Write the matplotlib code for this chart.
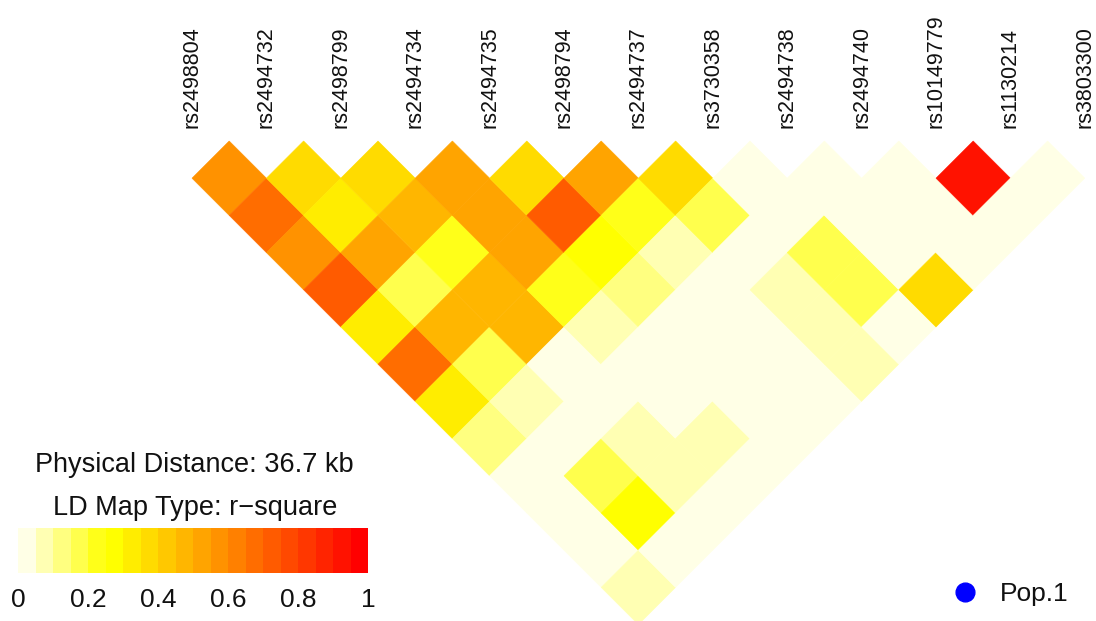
import matplotlib
matplotlib.use("Agg")
import matplotlib.pyplot as plt
import numpy as np
from matplotlib.colors import ListedColormap, BoundaryNorm, hsv_to_rgb
from matplotlib.collections import PolyCollection
from matplotlib.cm import ScalarMappable

plt.rcParams['font.family'] = ['Liberation Sans', 'DejaVu Sans']

snps = ["rs2498804", "rs2494732", "rs2498799", "rs2494734", "rs2494735",
        "rs2498794", "rs2494737", "rs3730358", "rs2494738", "rs2494740",
        "rs10149779", "rs1130214", "rs3803300"]

# r-square values; row i lists the pairs (i, j) for j > i
r2_rows = [
    [0.57, 0.67, 0.58, 0.72, 0.32, 0.68, 0.33, 0.12, 0.03, 0.02, 0.02, 0.07],
    [0.37, 0.31, 0.52, 0.17, 0.47, 0.18, 0.07, 0.03, 0.17, 0.27, 0.02],
    [0.38, 0.47, 0.22, 0.46, 0.48, 0.03, 0.02, 0.07, 0.08, 0.01],
    [0.53, 0.51, 0.52, 0.22, 0.08, 0.02, 0.03, 0.07, 0.01],
    [0.37, 0.72, 0.27, 0.12, 0.02, 0.03, 0.01, 0.02],
    [0.52, 0.23, 0.07, 0.02, 0.03, 0.02, 0.01],
    [0.36, 0.17, 0.02, 0.07, 0.08, 0.07],
    [0.01, 0.02, 0.17, 0.18, 0.02],
    [0.02, 0.01, 0.03, 0.37],
    [0.01, 0.02, 0.01],
    [0.93, 0.02],
    [0.01],
]

cbar_ticks = [0, 0.2, 0.4, 0.6, 0.8, 1]
cbar_ticklabels = ["0", "0.2", "0.4", "0.6", "0.8", "1"]
distance_text = "Physical Distance: 36.7 kb"
maptype_text = "LD Map Type: r\u2212square"
pop_label = "Pop.1"

# colour palette: rev(heat.colors(20))
n = 20
nj = n // 4
ni = n - nj
cols = [hsv_to_rgb((h, 1, 1)) for h in np.linspace(0, 1 / 6, ni)]
cols += [hsv_to_rgb((1 / 6, s, 1)) for s in np.linspace(1 - 1 / (2 * nj), 1 / (2 * nj), nj)]
cols = cols[::-1]
cmap = ListedColormap(cols)
norm = BoundaryNorm(np.linspace(0, 1, n + 1), n)

W, H = 1096, 621
fig = plt.figure(figsize=(W / 100, H / 100), dpi=100)
ax = fig.add_axes([0, 0, 1, 1])
step = 74.4
x0, ytop = 192, 141
ax.set_xlim(-x0 / step, (W - x0) / step)
ax.set_ylim((H - ytop) / step, -ytop / step)
ax.axis("off")

verts, vals = [], []
for i, row in enumerate(r2_rows):
    for k, v in enumerate(row):
        j = i + 1 + k
        cu, cv = (i + j) / 2, (j - i) / 2
        verts.append([(cu - 0.5, cv), (cu, cv - 0.5), (cu + 0.5, cv), (cu, cv + 0.5)])
        vals.append(v)
pc = PolyCollection(verts, array=np.array(vals), cmap=cmap, norm=norm,
                    edgecolors="face", linewidths=0.4)
ax.add_collection(pc)

txt_color = "#111111"
for i, name in enumerate(snps):
    ax.text(i, -0.175, name, rotation=90, ha="center", va="bottom",
            fontsize=15.5, color=txt_color)

# legend texts
fig.text(194 / W, 1 - 472 / H, distance_text, ha="center", va="baseline",
         fontsize=19.5, color=txt_color)
fig.text(195 / W, 1 - 515 / H, maptype_text, ha="center", va="baseline",
         fontsize=19.5, color=txt_color)

cax = fig.add_axes([18 / W, 1 - 573 / H, 350 / W, 45 / H])
cb = fig.colorbar(ScalarMappable(norm=norm, cmap=cmap), cax=cax, orientation="horizontal")
cb.outline.set_visible(False)
cb.set_ticks(cbar_ticks)
cb.set_ticklabels(cbar_ticklabels)
cax.minorticks_off()
cax.tick_params(which="both", length=0, pad=11, labelsize=19, labelcolor=txt_color)

# population legend
ax.plot([965 / W], [1 - 591.7 / H], "o", color="blue", ms=13.5,
        transform=fig.transFigure, clip_on=False)
fig.text(1000 / W, 1 - 600.7 / H, pop_label, ha="left", va="baseline",
         fontsize=19, color=txt_color)

fig.savefig("out.png", dpi=100)
